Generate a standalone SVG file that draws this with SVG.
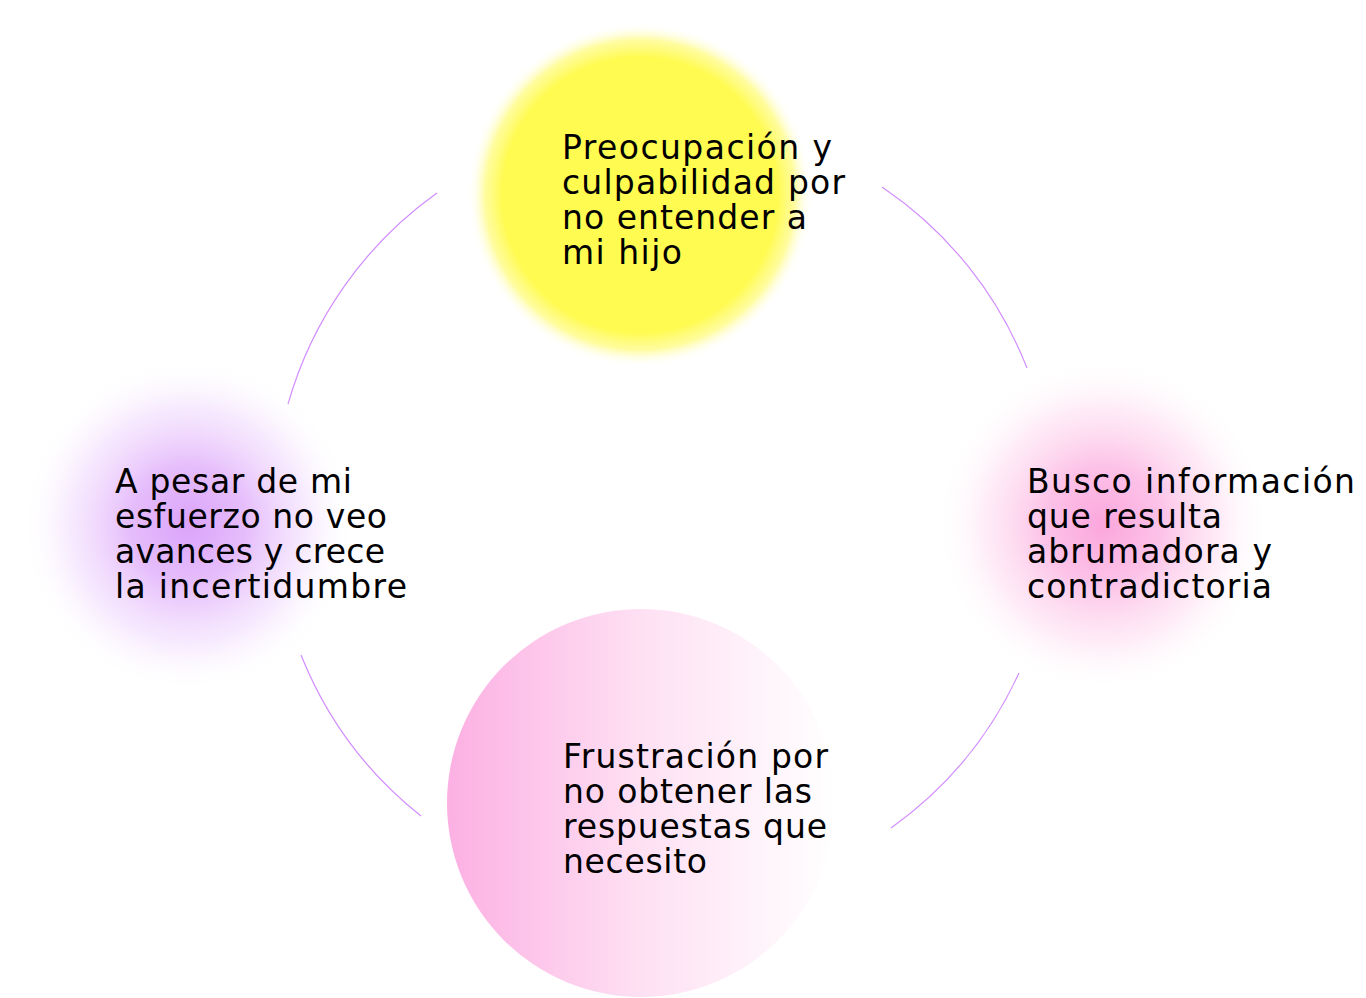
<svg xmlns="http://www.w3.org/2000/svg" width="1366" height="998" viewBox="0 0 1366 998">
<defs>
<radialGradient id="gYellow" cx="0.5" cy="0.5" r="0.5">
<stop offset="0" stop-color="#fffb50"/>
<stop offset="0.8" stop-color="#fffb50"/>
<stop offset="0.9" stop-color="#fffb75" stop-opacity="0.7"/>
<stop offset="1" stop-color="#ffffff" stop-opacity="0"/>
</radialGradient>
<radialGradient id="gPurple" cx="0.5" cy="0.5" r="0.5">
<stop offset="0" stop-color="#dba3fa"/>
<stop offset="0.35" stop-color="#e3b6fb" stop-opacity="0.9"/>
<stop offset="0.7" stop-color="#f0d8fd" stop-opacity="0.55"/>
<stop offset="1" stop-color="#ffffff" stop-opacity="0"/>
</radialGradient>
<radialGradient id="gPink" cx="0.5" cy="0.5" r="0.5">
<stop offset="0" stop-color="#fba6dd"/>
<stop offset="0.35" stop-color="#fcbbe5" stop-opacity="0.9"/>
<stop offset="0.7" stop-color="#fedcf0" stop-opacity="0.55"/>
<stop offset="1" stop-color="#ffffff" stop-opacity="0"/>
</radialGradient>
<linearGradient id="gBottom" x1="0" y1="0" x2="1" y2="0">
<stop offset="0" stop-color="#fcb0e3"/>
<stop offset="0.5" stop-color="#fee0f3"/>
<stop offset="1" stop-color="#ffffff"/>
</linearGradient>
</defs>
<style>
.lbl{font-family:"DejaVu Sans","Open Sans",sans-serif;font-size:33px;fill:#000000;}
.arc{fill:none;stroke:#d28cff;stroke-width:1.2;}
</style>
<rect width="1366" height="998" fill="#ffffff"/>
<g id="connectors">
<path class="arc" d="M 288 404 A 390 390 0 0 1 437 193"/>
<path class="arc" d="M 882 187 A 390 390 0 0 1 1027 368"/>
<path class="arc" d="M 1019 673 A 390 390 0 0 1 891 828"/>
<path class="arc" d="M 421 816 A 390 390 0 0 1 301 655"/>
</g>
<g id="node-top">
<circle cx="640" cy="195" r="172" fill="url(#gYellow)"/>
<text class="lbl"><tspan x="562" y="159" textLength="270" lengthAdjust="spacing">Preocupación y</tspan><tspan x="562" y="194" textLength="283" lengthAdjust="spacing">culpabilidad por</tspan><tspan x="562" y="229" textLength="245" lengthAdjust="spacing">no entender a</tspan><tspan x="562" y="264" textLength="120" lengthAdjust="spacing">mi hijo</tspan></text>
</g>
<g id="node-right">
<circle cx="1103" cy="525" r="168" fill="url(#gPink)"/>
<text class="lbl"><tspan x="1027" y="493" textLength="328" lengthAdjust="spacing">Busco información</tspan><tspan x="1027" y="528" textLength="195" lengthAdjust="spacing">que resulta</tspan><tspan x="1027" y="563" textLength="245" lengthAdjust="spacing">abrumadora y</tspan><tspan x="1027" y="598" textLength="245" lengthAdjust="spacing">contradictoria</tspan></text>
</g>
<g id="node-bottom">
<circle cx="641" cy="803" r="194" fill="url(#gBottom)"/>
<text class="lbl"><tspan x="563" y="768" textLength="265" lengthAdjust="spacing">Frustración por</tspan><tspan x="563" y="803" textLength="249" lengthAdjust="spacing">no obtener las</tspan><tspan x="563" y="838" textLength="264" lengthAdjust="spacing">respuestas que</tspan><tspan x="563" y="873" textLength="144" lengthAdjust="spacing">necesito</tspan></text>
</g>
<g id="node-left">
<circle cx="188" cy="525" r="168" fill="url(#gPurple)"/>
<text class="lbl"><tspan x="115" y="493" textLength="237" lengthAdjust="spacing">A pesar de mi</tspan><tspan x="115" y="528" textLength="272" lengthAdjust="spacing">esfuerzo no veo</tspan><tspan x="115" y="563" textLength="270" lengthAdjust="spacing">avances y crece</tspan><tspan x="115" y="598" textLength="292" lengthAdjust="spacing">la incertidumbre</tspan></text>
</g>
</svg>
